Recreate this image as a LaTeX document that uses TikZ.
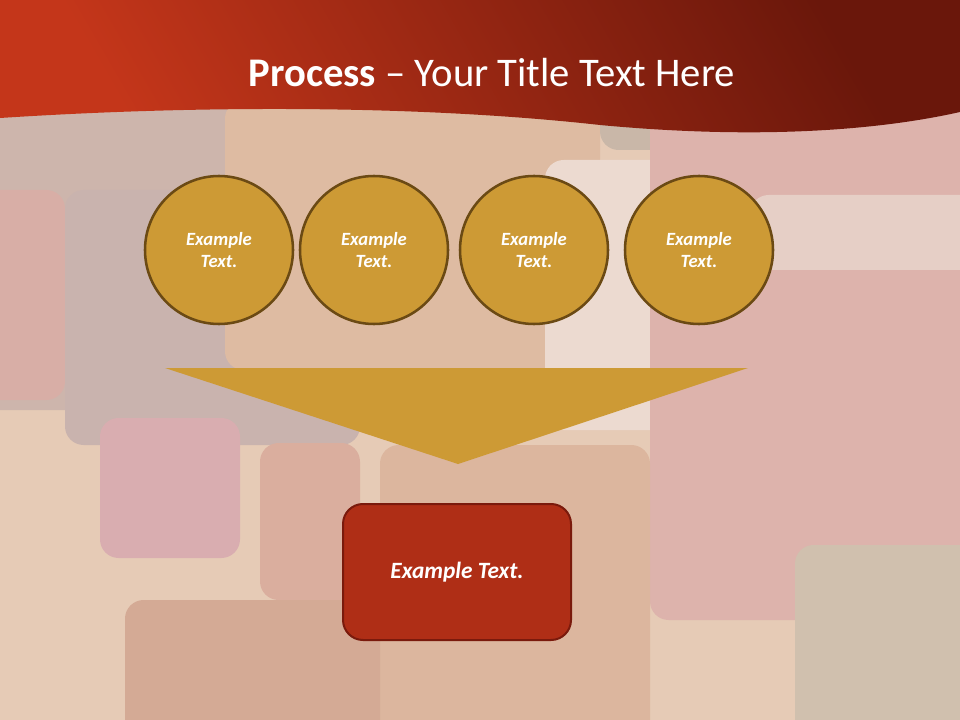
\documentclass[tikz,border=0pt]{standalone}
\usepackage{fontspec}
\setmainfont{Carlito}
\usetikzlibrary{positioning,shapes}
\definecolor{bgbase}{HTML}{E6CBB6}
\definecolor{hdrL}{HTML}{C4361A}
\definecolor{hdrR}{HTML}{6A170B}
\definecolor{gold}{HTML}{CD9A35}
\definecolor{goldline}{HTML}{6B4A14}
\definecolor{rust}{HTML}{AF2E16}
\definecolor{rustline}{HTML}{7A1A0C}
% background patch colours
\definecolor{mauve}{HTML}{CDB5AC}
\definecolor{redstrip}{HTML}{D8AEA6}
\definecolor{greymauve}{HTML}{C9B3AE}
\definecolor{tan}{HTML}{DEBBA2}
\definecolor{olive}{HTML}{C9B7A8}
\definecolor{cream}{HTML}{ECDAD0}
\definecolor{rosy}{HTML}{DDB3AC}
\definecolor{lightrose}{HTML}{E6CFC6}
\definecolor{pinksq}{HTML}{D9ADB0}
\definecolor{redsq}{HTML}{DAAE9E}
\definecolor{orangesq}{HTML}{DCB69E}
\definecolor{brownsq}{HTML}{D4AA95}
\definecolor{greensq}{HTML}{D0C0AE}
\tikzset{
    %Define style for background patches
    patch/.style={
           draw=none,
           rounded corners=14pt},
    %Define style for the circles
    stage/.style={
           circle,
           draw=goldline, line width=1.9pt,
           fill=gold,
           minimum size=111pt,
           inner sep=0pt,
           text=white,
           align=center,
           font=\fontsize{14}{16.5}\selectfont\bfseries\itshape},
    %Define style for the result box
    resbox/.style={
           rectangle,
           rounded corners=15pt,
           draw=rustline, line width=1.5pt,
           fill=rust,
           minimum width=171pt,
           minimum height=102pt,
           text=white,
           font=\fontsize{17.5}{21}\selectfont\bfseries\itshape},
    title/.style={
           text=white,
           anchor=base,
           font=\fontsize{30.5}{36}\selectfont}
}

\begin{document}
\begin{tikzpicture}[x=0.75pt,y=-0.75pt]
  \useasboundingbox (0,0) rectangle (960,720);

  % background patchwork
  \fill[bgbase] (0,0) rectangle (960,720);
  \fill[patch,fill=mauve] (-20,100) rectangle (230,410);
  \fill[patch,fill=redstrip] (-20,190) rectangle (65,400);
  \fill[patch,fill=greymauve] (65,190) rectangle (360,445);
  \fill[patch,fill=tan] (225,100) rectangle (600,370);
  \fill[patch,fill=olive] (600,100) rectangle (730,150);
  \fill[patch,fill=cream] (545,160) rectangle (750,430);
  \fill[patch,fill=rosy] (650,100) rectangle (980,620);
  \fill[patch,fill=lightrose] (750,195) rectangle (980,270);
  \fill[patch,fill=pinksq] (100,418) rectangle (240,558);
  \fill[patch,fill=redsq] (260,443) rectangle (360,600);
  \fill[patch,fill=orangesq] (380,445) rectangle (650,740);
  \fill[patch,fill=brownsq] (125,600) rectangle (380,740);
  \fill[patch,fill=greensq] (795,545) rectangle (980,740);

  % header with wavy lower edge
  \shade[top color=hdrR, bottom color=hdrL, shading angle=-60]
    (0,0) -- (0,118) .. controls (200,105) and (420,105) .. (600,125)
    .. controls (760,140) and (880,130) .. (960,112) -- (960,0) -- cycle;
  \node[title] (head) at (492,87) {\textbf{Process} – Your Title Text Here};

  % four input circles
  \foreach \x [count=\i] in {219,374,534,699}
    \node[stage] (c\i) at (\x,250) {Example\\Text.};

  % funnel
  \fill[gold] (165,368) -- (748,368) -- (458,464) -- cycle;

  % result
  \node[resbox] (res) at (457,572) {Example Text.};
\end{tikzpicture}
\end{document}
